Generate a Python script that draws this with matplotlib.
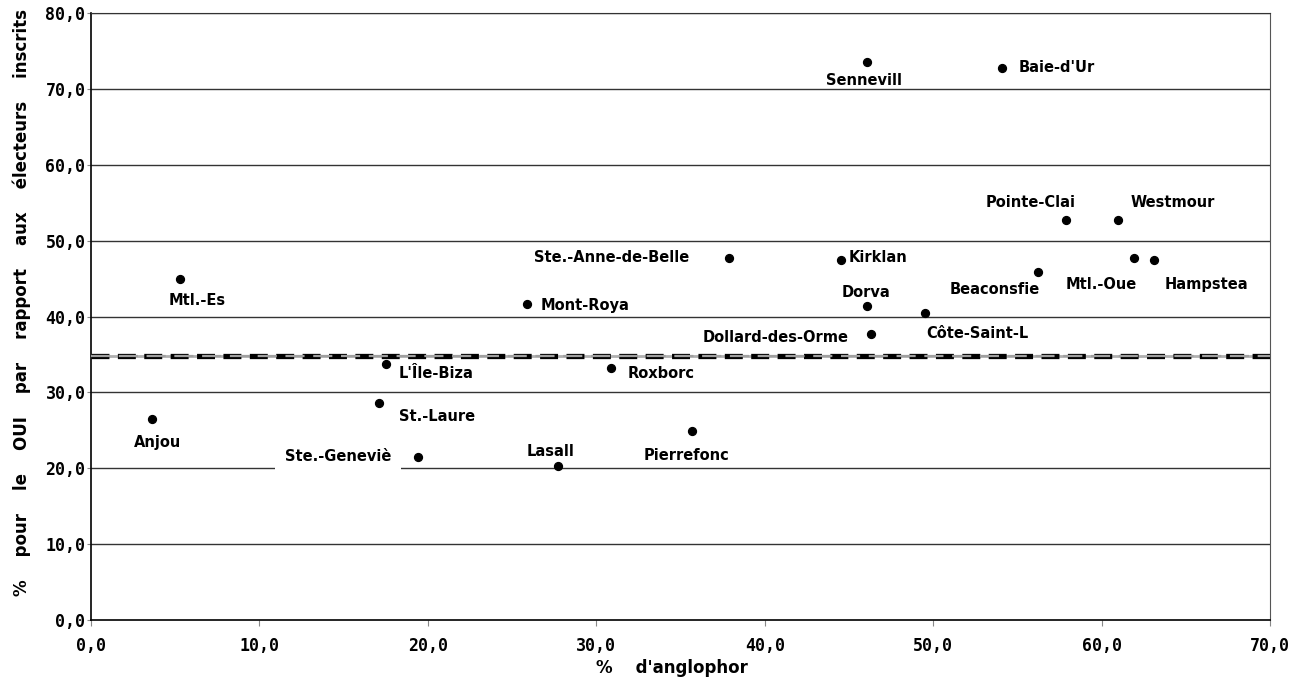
import matplotlib
matplotlib.use("Agg")
import matplotlib.pyplot as plt

# municipalities (labels as shown, truncated in the source chart)
labels = ["Mtl.-Es", "Anjou", "L'Île-Biza", "St.-Laure", "Roxborc", "Ste.-Geneviè",
          "Lasall", "Pierrefonc", "Mont-Roya", "Sennevill", "Baie-d'Ur",
          "Ste.-Anne-de-Belle", "Kirklan", "Dorva", "Dollard-des-Orme", "Côte-Saint-L",
          "Pointe-Clai", "Westmour", "Mtl.-Oue", "Hampstea", "Beaconsfie"]
pct_anglo = [5.3, 3.6, 17.5, 17.1, 30.9, 19.4,
             27.7, 35.7, 25.9, 46.1, 54.1,
             37.9, 44.5, 46.1, 46.3, 49.5,
             57.9, 61.0, 61.9, 63.1, 56.2]
pct_oui = [44.9, 26.5, 33.7, 28.6, 33.2, 21.5,
           20.3, 24.9, 41.6, 73.5, 72.8,
           47.7, 47.4, 41.4, 37.7, 40.5,
           52.7, 52.7, 47.7, 47.4, 45.9]
moyenne = 34.8

# label offsets from the marker, in pixels
offsets = [(17, -21), (6, -24), (50, -9), (58, -14), (50, -5), (-80, 0),
           (-7, 14), (-6, -24), (58, -1), (-3, -18), (55, 0),
           (-118, 1), (37, 3), (-1, 13), (-95, -4), (53, -21),
           (-36, 18), (54, 18), (-32, -26), (53, -24), (-43, -18)]

fig = plt.figure(figsize=(13.14, 6.85), dpi=100)
ax = fig.add_axes([91 / 1314, 65 / 685, 1179 / 1314, 607 / 685])

ax.set_xlim(0, 70)
ax.set_ylim(0, 80)
ax.set_yticks(range(0, 81, 10))
ax.set_xticks(range(0, 71, 10))
ax.set_yticklabels([f"{v},0" for v in range(0, 81, 10)])
ax.set_xticklabels([f"{v},0" for v in range(0, 71, 10)])
for lab in ax.get_xticklabels() + ax.get_yticklabels():
    lab.set_fontfamily("DejaVu Sans Mono")
    lab.set_fontweight("bold")
    lab.set_fontsize(12)
ax.tick_params(axis="x", length=4, color="#888888", pad=8)
ax.tick_params(axis="y", length=3, color="#888888", pad=1)

for v in range(10, 81, 10):
    ax.axhline(v, color="#333333", lw=1, zorder=1)
for s in ["left", "bottom"]:
    ax.spines[s].set_color("black")
    ax.spines[s].set_linewidth(1.2)
ax.spines["top"].set_color("#333333")
ax.spines["right"].set_color("#555555")

# average line: gray band with black dashes
ax.axhline(moyenne, color="#b0b0b0", lw=2, zorder=2)
ax.axhline(moyenne, color="black", lw=3.8, linestyle=(0, (3.4, 1.6)), zorder=3)
ax.axhline(moyenne, color="#a0a0a0", lw=1.6, linestyle=(0, (8.6, 3.9)), zorder=4)

ax.scatter(pct_anglo, pct_oui, s=32, color="black", zorder=6)

for name, x, y, off in zip(labels, pct_anglo, pct_oui, offsets):
    pad = 7 if name == "Ste.-Geneviè" else 0.3
    ax.annotate(name, (x, y), xytext=off, textcoords="offset pixels",
                ha="center", va="center", fontsize=10.5, fontweight="bold",
                bbox=dict(facecolor="white", edgecolor="none", pad=pad), zorder=5)

fig.text(672 / 1314, 1 - 668 / 685, "%    d'anglophor", ha="center", va="center",
         fontsize=12, fontweight="bold")
fig.text(22 / 1314, 1 - 302 / 685,
         "%    pour    le    OUI    par    rapport    aux    électeurs    inscrits",
         rotation=90, ha="center", va="center", fontsize=12, fontweight="bold")

fig.savefig("out.png", dpi=100, facecolor="white")
